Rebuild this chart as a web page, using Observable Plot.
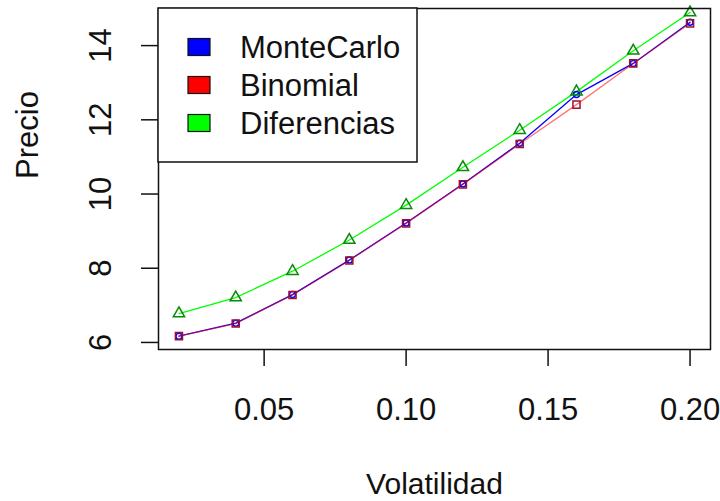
<!DOCTYPE html>
<html><head><meta charset="utf-8">
<script src="https://cdn.jsdelivr.net/npm/d3@7"></script>
<script src="https://cdn.jsdelivr.net/npm/@observablehq/plot@0.6"></script>
<style>body{margin:0;background:#fff}</style>
</head><body><div id="chart"></div>
<script>
const volatilidad = [0.02, 0.04, 0.06, 0.08, 0.10, 0.12, 0.14, 0.16, 0.18, 0.20];
const monteCarlo  = [6.17, 6.52, 7.29, 8.22, 9.22, 10.27, 11.37, 12.68, 13.52, 14.63];
const binomial    = [6.17, 6.51, 7.28, 8.21, 9.21, 10.26, 11.35, 12.41, 13.52, 14.60];
const diferencias = [6.78, 7.21, 7.92, 8.76, 9.70, 10.72, 11.72, 12.76, 13.86, 14.89];
const seriesNames = ["MonteCarlo", "Binomial", "Diferencias"];
const seriesColors = ["#0000ff", "#ff0000", "#00ff00"];
const xTicks = [0.05, 0.10, 0.15, 0.20];
const yTicks = [6, 8, 10, 12, 14];
const xLabel = "Volatilidad";
const yLabel = "Precio";

const rows = vals => volatilidad.map((v, i) => ({x: v, y: vals[i]}));
const mc = rows(monteCarlo), bi = rows(binomial), df = rows(diferencias);

const font = "'Liberation Sans', Arial, sans-serif";
const fs = 31;
const plot = Plot.plot({
  width: 720, height: 501,
  marginLeft: 158, marginRight: 10, marginTop: 8, marginBottom: 152,
  style: {fontFamily: font, background: "white", color: "#111"},
  x: {domain: [0.0128, 0.2072]},
  y: {domain: [5.81, 15.0]},
  marks: [
    Plot.line(mc, {x: "x", y: "y", stroke: seriesColors[0], strokeWidth: 1.3}),
    Plot.line(bi, {x: "x", y: "y", stroke: seriesColors[1], strokeWidth: 1.3, strokeOpacity: 0.55}),
    Plot.line(df, {x: "x", y: "y", stroke: seriesColors[2], strokeWidth: 1.3}),
    Plot.dot(mc, {x: "x", y: "y", stroke: seriesColors[0], r: 3, strokeWidth: 1.5}),
    Plot.dot(bi, {x: "x", y: "y", symbol: "square", stroke: "#a0102a", r: 4, strokeWidth: 1.5}),
    Plot.dot(df, {x: "x", y: "y", symbol: "triangle", stroke: "#0a8a0a", r: 4.2, strokeWidth: 1.5}),
    Plot.frame({stroke: "#111", strokeWidth: 1.5}),
    Plot.axisX({ticks: xTicks, tickSize: 17, tickPadding: 31, tickFormat: d3.format(".2f"), fontSize: fs, label: null, strokeWidth: 1.5}),
    Plot.axisY({ticks: yTicks, tickSize: 17, tickFormat: () => "", label: null, strokeWidth: 1.5}),
    Plot.text(yTicks, {y: d => d, text: d => String(d), frameAnchor: "left", dx: -48, rotate: -90, lineAnchor: "bottom", textAnchor: "middle", fontSize: fs}),
    Plot.text([yLabel], {text: d => d, frameAnchor: "left", dx: -121, rotate: -90, lineAnchor: "bottom", fontSize: fs}),
    Plot.text([xLabel], {text: d => d, frameAnchor: "bottom", dy: 144, lineAnchor: "bottom", fontSize: 30})
  ]
});

// legend (top-left inside the plot box)
const svg = d3.select(plot);
const lg = svg.append("g").attr("font-family", font).attr("font-size", fs).attr("text-anchor", "start");
lg.append("rect").attr("x", 158).attr("y", 8).attr("width", 259).attr("height", 154)
  .attr("fill", "white").attr("stroke", "#111").attr("stroke-width", 1.5);
seriesNames.forEach((name, i) => {
  const cy = 47 + i * 38;
  lg.append("rect").attr("x", 188).attr("y", cy - 8.5).attr("width", 22).attr("height", 17)
    .attr("fill", seriesColors[i]).attr("stroke", "#111").attr("stroke-width", 1.2);
  lg.append("text").attr("x", 240).attr("y", cy).attr("dy", "0.36em")
    .attr("text-anchor", "start").attr("fill", "#111").text(name);
});
document.getElementById("chart").appendChild(plot);
</script>
</body></html>
